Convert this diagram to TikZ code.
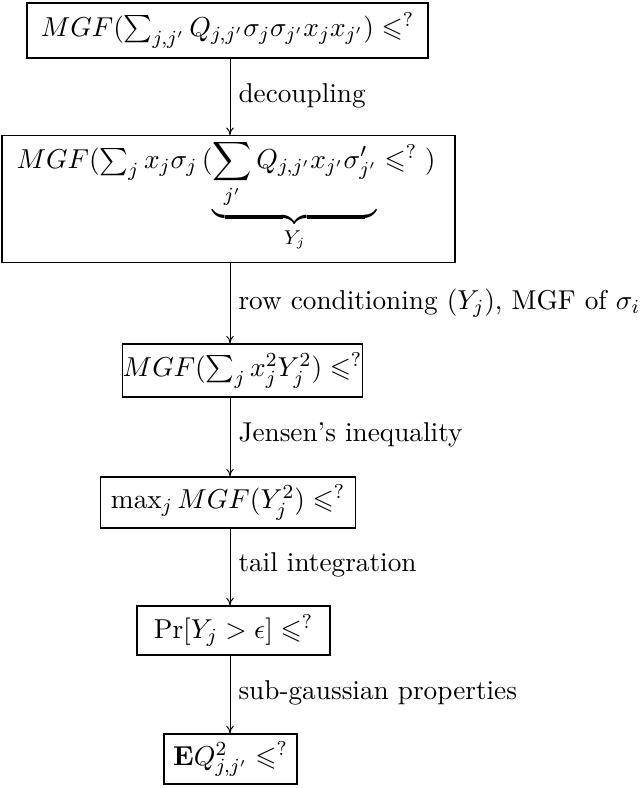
\documentclass[tikz,border=0pt]{standalone}
\usepackage{amsmath,amssymb}
\usetikzlibrary{arrows.meta}
\begin{document}
\begin{tikzpicture}[x=0.4pt,y=-0.4pt,
  every node/.style={font=\fontsize{10.9}{13}\selectfont},
  box/.style={draw,line width=0.5pt,inner sep=0pt},
  lab/.style={anchor=west,inner sep=0pt},
  arr/.style={-{To[length=3pt,width=3pt]},line width=0.4pt}]
\useasboundingbox (0,0) rectangle (640,788);
\coordinate (ax) at (230,0);
\node[box,minimum width=160.4pt,minimum height=22pt] (b1) at (227.5,30.5)
  {$MGF(\sum_{j,j'} Q_{j,j'}\sigma_j\sigma_{j'}x_jx_{j'}) \leqslant^?$};
\node[box,minimum width=181.2pt,minimum height=50.8pt,anchor=north] (b2) at (228.5,135)
  {};
\node (b2t) at (226,196)
  {$MGF(\sum_{j} x_j\sigma_j\,(\underbrace{\displaystyle\sum_{j'} Q_{j,j'}x_{j'}\sigma'_{j'}}_{Y_j}\leqslant^?\;)$};
\node[box,minimum width=96pt,minimum height=21.2pt] (b3) at (242.5,370.5)
  {$MGF(\sum_j x_j^2Y_j^2)\leqslant^?$};
\node[box,minimum width=102pt,minimum height=20.4pt] (b4) at (228,502.5)
  {$\max_j MGF(Y_j^2)\leqslant^?$};
\node[box,minimum width=77.2pt,minimum height=19.6pt] (b5) at (233.5,630.5)
  {$\Pr[Y_j>\epsilon]\leqslant^?$};
\node[box,minimum width=53.2pt,minimum height=20pt] (b6) at (230.5,759)
  {$\mathbf{E}Q_{j,j'}^2\leqslant^?$};
\draw[arr] (b1.south -| ax) -- (b2.north -| ax);
\draw[arr] (b2.south -| ax) -- (b3.north -| ax);
\draw[arr] (b3.south -| ax) -- (b4.north -| ax);
\draw[arr] (b4.south -| ax) -- (b5.north -| ax);
\draw[arr] (b5.south -| ax) -- (b6.north -| ax);
\node[lab] (l1) at (238,96) {decoupling};
\node[lab] (l2) at (238,303) {row conditioning $(Y_j)$, MGF of $\sigma_i$};
\node[lab] (l3) at (238,435) {Jensen's inequality};
\node[lab] (l4) at (238,565) {tail integration};
\node[lab] (l5) at (238,693) {sub-gaussian properties};
\end{tikzpicture}
\end{document}
